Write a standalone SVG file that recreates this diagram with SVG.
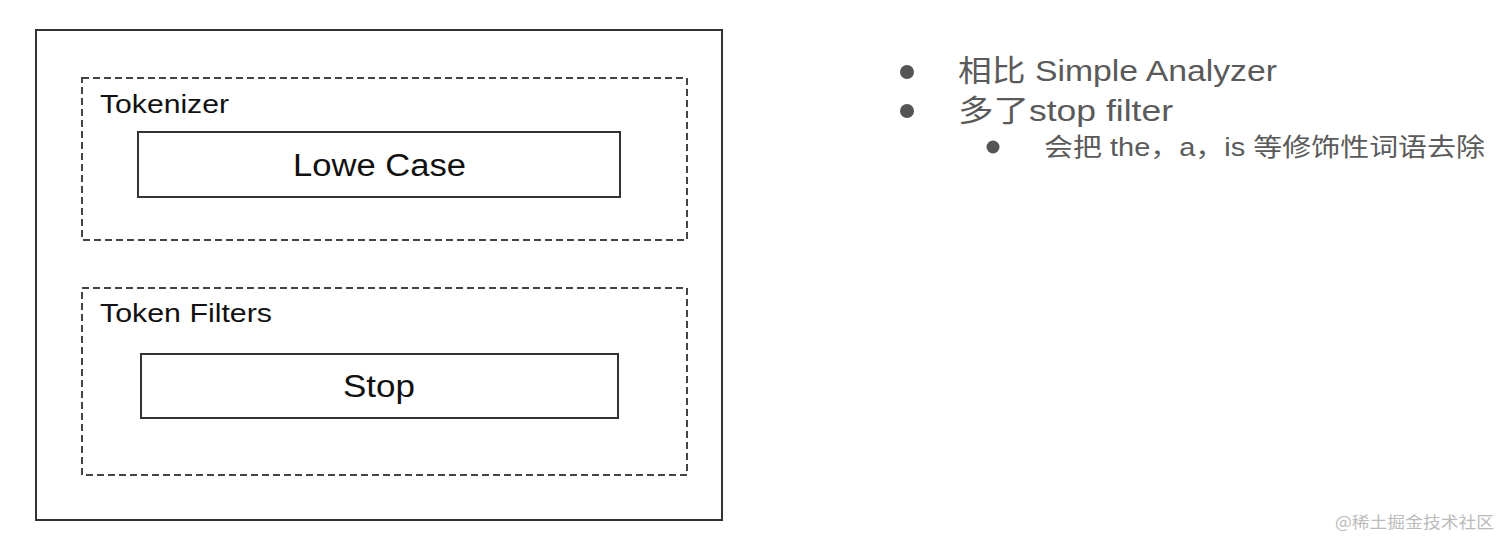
<svg xmlns="http://www.w3.org/2000/svg" width="1512" height="549" viewBox="0 0 1512 549">
<style>
.solid{fill:none;stroke:#333;stroke-width:2}
.dash{fill:none;stroke:#444;stroke-width:2;stroke-dasharray:7 4}
.lbl{font-family:"Liberation Sans","Noto Sans CJK SC",sans-serif;fill:#111}
.rt{font-family:"Liberation Sans","Noto Sans CJK SC",sans-serif;fill:#5a5a5a}
.dot{fill:#555}
</style>
<rect width="1512" height="549" fill="#fff"/>
<g id="analyzer">
<rect class="solid" x="36" y="30" width="686" height="490"/>
</g>
<g id="tokenizer">
<rect class="dash" x="82" y="78" width="605" height="162"/>
<text class="lbl" x="100" y="113" font-size="26" textLength="129" lengthAdjust="spacingAndGlyphs">Tokenizer</text>
</g>
<g id="lowecase">
<rect class="solid" x="138" y="132" width="482" height="65"/>
<text class="lbl" x="293" y="176" font-size="31" textLength="173" lengthAdjust="spacingAndGlyphs">Lowe Case</text>
</g>
<g id="tokenfilters">
<rect class="dash" x="82" y="288" width="605" height="187"/>
<text class="lbl" x="100" y="322" font-size="26" textLength="172" lengthAdjust="spacingAndGlyphs">Token Filters</text>
</g>
<g id="stop">
<rect class="solid" x="141" y="354" width="477" height="64"/>
<text class="lbl" x="343" y="397" font-size="31" textLength="72" lengthAdjust="spacingAndGlyphs">Stop</text>
</g>
<g id="connectors"></g>
<g id="notes">
<circle class="dot" cx="907" cy="72" r="7"/>
<text class="rt" x="958" y="81" font-size="30" textLength="319" lengthAdjust="spacingAndGlyphs">相比 Simple Analyzer</text>
<circle class="dot" cx="907" cy="111" r="7"/>
<text class="rt" x="958" y="121" font-size="30" textLength="215" lengthAdjust="spacingAndGlyphs">多了stop filter</text>
<circle class="dot" cx="993" cy="147" r="6.5"/>
<text class="rt" x="1044" y="156" font-size="25" textLength="441" lengthAdjust="spacingAndGlyphs">会把 the，a，is 等修饰性词语去除</text>
</g>
<text x="1335" y="528" font-size="16" font-family="'Noto Sans CJK SC',sans-serif" fill="#bbb" textLength="159" lengthAdjust="spacingAndGlyphs">@稀土掘金技术社区</text>
</svg>
